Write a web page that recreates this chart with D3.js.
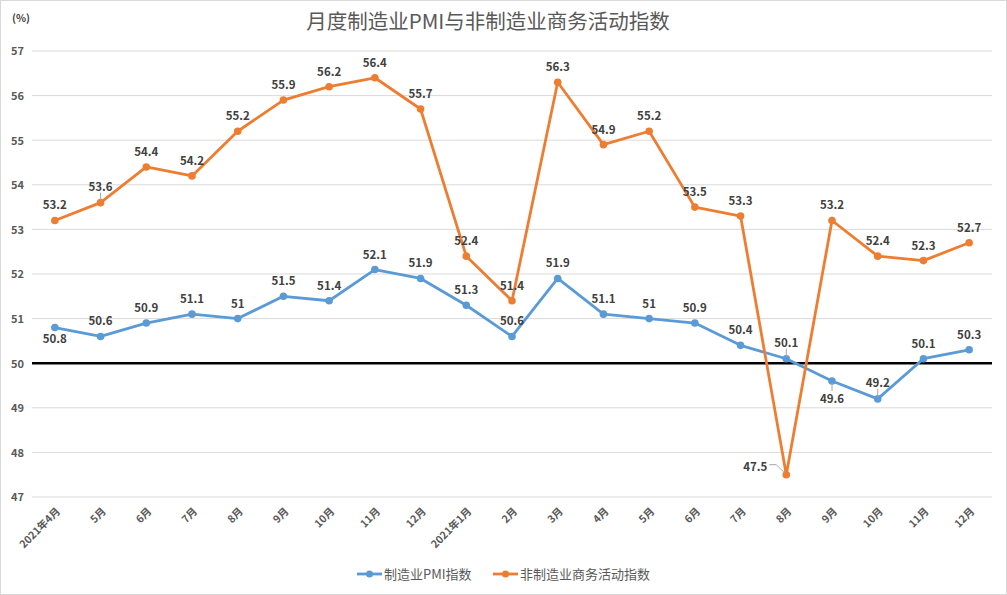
<!DOCTYPE html>
<html><head><meta charset="utf-8">
<script src="https://cdn.jsdelivr.net/npm/d3@7"></script>
<style>
body{margin:0;background:#fff;}
text{font-family:"Noto Sans CJK SC","Noto Sans",sans-serif;}
</style></head>
<body><svg id="c" width="1007" height="595"></svg>
<script>
const categories = ["2021年4月","5月","6月","7月","8月","9月","10月","11月","12月","2021年1月","2月","3月","4月","5月","6月","7月","8月","9月","10月","11月","12月"];
const pmi = [50.8,50.6,50.9,51.1,51,51.5,51.4,52.1,51.9,51.3,50.6,51.9,51.1,51,50.9,50.4,50.1,49.6,49.2,50.1,50.3];
const nonMfg = [53.2,53.6,54.4,54.2,55.2,55.9,56.2,56.4,55.7,52.4,51.4,56.3,54.9,55.2,53.5,53.3,47.5,53.2,52.4,52.3,52.7];
const yTicks = [47,48,49,50,51,52,53,54,55,56,57];
const seriesNames = ["制造业PMI指数","非制造业商务活动指数"];
const pmiLabelPlace = ["below","above","above","above","above","above","above","above","above","above","above","above","above","above","above","above","aboveLeader","belowLeader","aboveLeader","above","above"];
const nonLabelPlace = ["above","aboveLeader","above","above","above","above","above","above","above","above","above","above","above","above","above","above","left","above","above","above","above"];

const svg = d3.select("#c");
const W = 1007, H = 595;
const m = {l:32, r:15, t:51, b:98};
svg.append("rect").attr("x",0.5).attr("y",0.5).attr("width",W-1).attr("height",H-1).attr("fill","#fff").attr("stroke","#d9d9d9");

const idx = d3.range(categories.length);
const x = d3.scaleBand().domain(idx).range([m.l, W-m.r]);
const y = d3.scaleLinear().domain([47,57]).range([H-m.b, m.t]);
const cx = i => x(i)+x.bandwidth()/2;

// grid
svg.append("g").selectAll("line").data(yTicks).join("line")
  .attr("x1",m.l).attr("x2",W-m.r).attr("y1",d=>y(d)).attr("y2",d=>y(d))
  .attr("stroke","#d9d9d9").attr("stroke-width",1);

// y axis labels
const yAxis = d3.axisLeft(y).tickValues(yTicks).tickSize(0).tickPadding(0).tickFormat(d3.format("d"));
const ya = svg.append("g").attr("transform",`translate(24,0)`).call(yAxis);
ya.select(".domain").remove();
ya.selectAll("text").attr("fill","#595959").attr("font-size",11).attr("font-weight","bold").attr("dy","0.35em");

// x axis labels
const xAxis = d3.axisBottom(x).tickSize(0).tickPadding(0).tickFormat(i=>categories[i]);
const xa = svg.append("g").attr("transform",`translate(0,${H-m.b})`).call(xAxis);
xa.select(".domain").remove();
xa.selectAll("text").attr("fill","#595959").attr("font-size",10.5).attr("font-weight","bold")
  .attr("text-anchor","end").attr("dy",0).attr("y",0)
  .attr("transform","translate(6,15) rotate(-45)");

// 50 baseline
svg.append("line").attr("x1",m.l).attr("x2",W-m.r).attr("y1",y(50)).attr("y2",y(50))
  .attr("stroke","#000").attr("stroke-width",2.5);

const colors = ["#5b9bd5","#ed7d31"];
const allSeries = [pmi, nonMfg];
const places = [pmiLabelPlace, nonLabelPlace];
const line = d3.line().x((d,i)=>cx(i)).y(d=>y(d));

allSeries.forEach((s,k)=>{
  svg.append("path").datum(s).attr("d",line).attr("fill","none")
    .attr("stroke",colors[k]).attr("stroke-width",2.8).attr("stroke-linejoin","round");
});
allSeries.forEach((s,k)=>{
  svg.append("g").selectAll("circle").data(s).join("circle")
    .attr("cx",(d,i)=>cx(i)).attr("cy",d=>y(d)).attr("r",3.8).attr("fill",colors[k]);
});

// labels
const lg = svg.append("g");
allSeries.forEach((s,k)=>{
  s.forEach((v,i)=>{
    const px = cx(i), py = y(v), p = places[k][i];
    let tx = px, ty = py - 11, anchor = "middle";
    if (p==="below") { ty = py + 15; }
    else if (p==="aboveLeader") { ty = py - 12;
      lg.append("line").attr("x1",px).attr("x2",px).attr("y1",py-10).attr("y2",py-2).attr("stroke","#a6a6a6").attr("stroke-width",1); }
    else if (p==="belowLeader") { ty = py + 22;
      lg.append("line").attr("x1",px).attr("x2",px).attr("y1",py+2).attr("y2",py+10).attr("stroke","#a6a6a6").attr("stroke-width",1); }
    else if (p==="left") { tx = px - 19; ty = py - 4; anchor = "end";
      lg.append("polyline").attr("points",`${px-17},${py-10} ${px-10},${py-10} ${px-2},${py-2}`).attr("fill","none").attr("stroke","#a6a6a6").attr("stroke-width",1); }
    lg.append("text").attr("x",tx).attr("y",ty).attr("text-anchor",anchor)
      .attr("font-size",11.5).attr("font-weight","bold").attr("fill","#404040")
      .text(d3.format("~g")(v));
  });
});

// title
svg.append("text").attr("x",488).attr("y",29).attr("text-anchor","middle")
  .attr("font-size",20.5).attr("fill","#595959").text("月度制造业PMI与非制造业商务活动指数");
svg.append("text").attr("x",12).attr("y",22).attr("font-size",10.5).attr("font-weight","bold").attr("fill","#404040").text("(%)");

// legend
const legX = [357, 493];
seriesNames.forEach((n,k)=>{
  const g = svg.append("g").attr("transform",`translate(${legX[k]},574)`);
  g.append("line").attr("x1",0).attr("x2",25).attr("stroke",colors[k]).attr("stroke-width",2.8);
  g.append("circle").attr("cx",12.5).attr("r",3.5).attr("fill",colors[k]);
  g.append("text").attr("x",27).attr("y",5).attr("font-size",13).attr("fill","#595959").text(n);
});
</script></body></html>
